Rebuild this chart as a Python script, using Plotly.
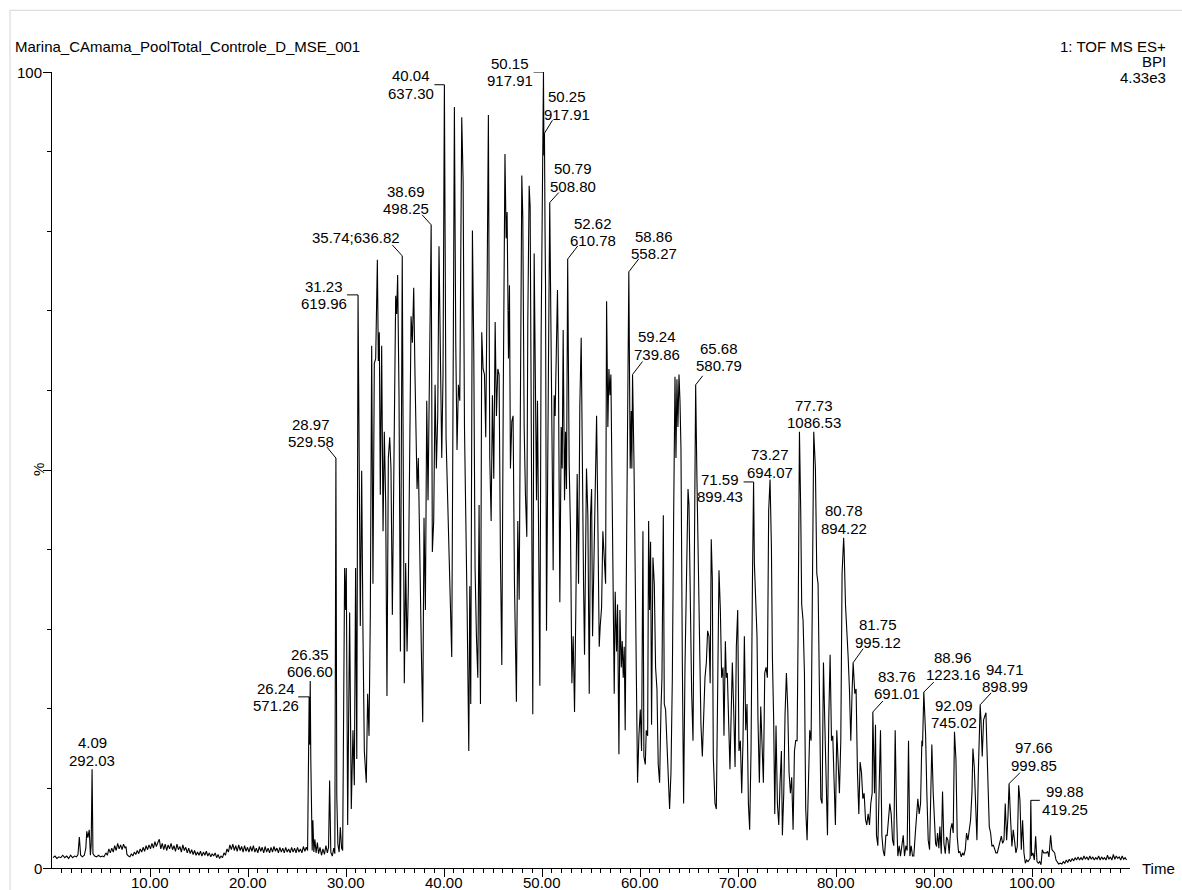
import plotly.graph_objects as go

# Base peak intensity chromatogram: (retention time [min], intensity [% of 4.33e3])
baseline_early = [
    (0.10, 1.3), (0.30, 1.5), (0.50, 1.2), (0.70, 1.4), (0.90, 1.3), (1.10, 1.6), (1.30, 1.3),
    (1.50, 1.5), (1.70, 1.2), (1.90, 1.6), (2.10, 1.3), (2.30, 1.5), (2.50, 1.4), (2.65, 1.7),
    (2.79, 3.9), (2.92, 1.6), (3.10, 1.4), (3.30, 1.6), (3.45, 2.5), (3.55, 4.6), (3.66, 3.8),
    (3.80, 4.8), (3.92, 1.6), (4.00, 3.0), (4.09, 12.4), (4.18, 1.8), (4.35, 1.5), (4.55, 1.4),
    (4.75, 1.6), (4.95, 1.4), (5.15, 1.5), (5.30, 1.4), (5.50, 1.9), (5.65, 1.6), (5.80, 2.4),
    (5.95, 1.9), (6.10, 2.5), (6.25, 2.0), (6.40, 2.8), (6.55, 2.2), (6.70, 3.1), (6.85, 2.4),
    (7.00, 2.9), (7.15, 2.3), (7.30, 3.0), (7.45, 2.5), (7.55, 2.7), (7.65, 1.7), (7.80, 1.5),
    (7.95, 1.4), (8.10, 1.8), (8.25, 1.5), (8.40, 2.0), (8.55, 1.7), (8.70, 2.2), (8.85, 1.8),
    (9.00, 2.4), (9.15, 2.0), (9.30, 2.6), (9.45, 2.1), (9.60, 2.8), (9.75, 2.3), (9.90, 2.9),
    (10.05, 2.4), (10.20, 3.1), (10.35, 2.5), (10.50, 3.3), (10.65, 2.7), (10.80, 3.2), (10.95, 3.6),
    (11.10, 2.4), (11.25, 3.1), (11.40, 2.3), (11.55, 3.0), (11.70, 2.2), (11.85, 2.9), (12.00, 2.4),
    (12.15, 3.1), (12.30, 2.3), (12.45, 2.8), (12.60, 2.1), (12.75, 3.0), (12.90, 2.3), (13.05, 2.7),
    (13.20, 2.0), (13.35, 2.9), (13.50, 2.2), (13.65, 2.6), (13.80, 1.9), (13.95, 2.5), (14.10, 1.8),
    (14.25, 2.3), (14.40, 1.7), (14.55, 2.2), (14.70, 1.6), (14.85, 2.0), (15.00, 1.6), (15.15, 2.1),
    (15.30, 1.5), (15.45, 2.0), (15.60, 1.6), (15.75, 2.1), (15.90, 1.5), (16.05, 1.9), (16.20, 1.4),
    (16.35, 1.8), (16.50, 1.5), (16.65, 1.9), (16.80, 1.3), (16.95, 1.7), (17.10, 1.2), (17.25, 1.5),
    (17.40, 1.3), (17.55, 1.9), (17.70, 1.6), (17.85, 2.4), (18.00, 2.0), (18.15, 2.9), (18.30, 2.3),
    (18.45, 3.0), (18.60, 2.2), (18.75, 2.8), (18.90, 2.1), (19.05, 2.9), (19.20, 2.2), (19.35, 2.7),
    (19.50, 2.0), (19.65, 2.8), (19.80, 2.1), (19.95, 2.6), (20.10, 2.0), (20.25, 2.7), (20.40, 2.1),
    (20.55, 2.8), (20.70, 2.0), (20.85, 2.5), (21.00, 1.9), (21.15, 2.7), (21.30, 2.1), (21.45, 2.6),
    (21.60, 1.9), (21.75, 2.7), (21.90, 2.0), (22.05, 2.5), (22.20, 1.9), (22.35, 2.6), (22.50, 2.0),
    (22.65, 2.7), (22.80, 2.1), (22.95, 2.5), (23.10, 1.9), (23.25, 2.6), (23.40, 2.0), (23.55, 2.5),
    (23.70, 1.9), (23.85, 2.6), (24.00, 2.0), (24.15, 2.4), (24.30, 1.9), (24.45, 2.6), (24.60, 2.0),
    (24.75, 2.5), (24.90, 1.9), (25.05, 2.6), (25.20, 2.0), (25.35, 2.4), (25.50, 1.9), (25.65, 2.7),
    (25.80, 2.1), (25.95, 2.6),
]

seg_26_30 = [
    (26.08, 2.2), (26.17, 10.5), (26.24, 21.5), (26.29, 15.5), (26.35, 23.5), (26.41, 13.5),
    (26.48, 8.0), (26.55, 2.2), (26.62, 6.0), (26.72, 2.0), (26.82, 3.6), (26.95, 1.9), (27.08, 3.2),
    (27.20, 1.8), (27.35, 2.6), (27.50, 1.6), (27.65, 2.4), (27.80, 1.7), (27.95, 2.8), (28.10, 1.9),
    (28.22, 2.6), (28.33, 11.0), (28.45, 2.0), (28.60, 1.5), (28.75, 2.5), (28.86, 1.8), (28.97, 51.5),
    (29.06, 9.0), (29.17, 3.0), (29.30, 2.0), (29.42, 5.1), (29.55, 2.5), (29.66, 2.2),
]

seg_30_41 = [
    (29.86, 37.7), (29.96, 32.4), (30.03, 37.7), (30.17, 5.4), (30.37, 32.1), (30.54, 7.4),
    (30.71, 17.3), (30.85, 10.4), (30.98, 37.7), (31.10, 13.7), (31.23, 72.0), (31.46, 30.4),
    (31.60, 49.9), (31.73, 29.8), (31.87, 14.7), (32.07, 10.7), (32.21, 21.9), (32.35, 16.6),
    (32.48, 31.8), (32.62, 65.6), (32.75, 35.7), (32.89, 63.4), (33.03, 64.0), (33.20, 76.4),
    (33.30, 63.7), (33.40, 67.3), (33.50, 46.9), (33.64, 65.6), (33.78, 42.3), (33.91, 54.8),
    (34.05, 45.9), (34.18, 21.6), (34.32, 51.5), (34.46, 54.1), (34.59, 50.2), (34.73, 31.8),
    (34.93, 54.1), (35.07, 71.9), (35.17, 69.6), (35.27, 74.5), (35.41, 59.4), (35.55, 27.2),
    (35.74, 76.9), (35.84, 44.3), (35.95, 23.2), (36.09, 38.3), (36.23, 27.2), (36.36, 35.1),
    (36.50, 51.5), (36.64, 69.3), (36.77, 66.0), (36.91, 72.9), (37.04, 62.0), (37.25, 47.6),
    (37.38, 51.5), (37.55, 35.7), (37.69, 27.2), (37.83, 18.3), (37.96, 44.0), (38.10, 32.4),
    (38.24, 58.7), (38.37, 46.2), (38.51, 62.0), (38.61, 72.6), (38.69, 80.8), (38.81, 39.7),
    (38.95, 43.6), (39.09, 60.7), (39.22, 50.2), (39.36, 56.8), (39.49, 78.1), (39.63, 64.7),
    (39.77, 51.5), (39.90, 62.0), (40.04, 98.4), (40.21, 54.1), (40.41, 43.6), (40.65, 34.4),
    (40.79, 26.5), (40.96, 68.6),
]

seg_41_51 = [
    (41.06, 95.6), (41.20, 66.0), (41.33, 52.5), (41.47, 60.7), (41.61, 58.7), (41.81, 94.3),
    (41.95, 86.4), (42.09, 55.4), (42.22, 46.2), (42.36, 32.4), (42.53, 14.7), (42.63, 35.4),
    (42.73, 20.6), (42.90, 80.1), (43.04, 64.7), (43.17, 37.7), (43.31, 29.1), (43.45, 23.9),
    (43.58, 45.6), (43.72, 20.6), (43.85, 67.3), (43.99, 62.7), (44.13, 62.0), (44.26, 54.1),
    (44.40, 73.2), (44.53, 94.6), (44.67, 51.5), (44.81, 43.6), (44.94, 59.4), (45.08, 48.9),
    (45.22, 68.6), (45.35, 56.8), (45.49, 62.7), (45.62, 62.0), (45.76, 39.0), (45.90, 25.5),
    (46.05, 60.0), (46.22, 89.7), (46.34, 79.1), (46.44, 82.4), (46.58, 64.0), (46.68, 73.2),
    (46.78, 50.2), (46.92, 56.1), (47.05, 56.8), (47.19, 35.7), (47.39, 20.9), (47.53, 43.6),
    (47.67, 33.7), (47.80, 62.0), (47.94, 87.0), (48.04, 81.8), (48.18, 55.4), (48.31, 46.9),
    (48.45, 41.6), (48.55, 68.6), (48.69, 85.7), (48.79, 83.1), (48.93, 44.3), (49.06, 19.3),
    (49.20, 77.2), (49.34, 59.4), (49.44, 46.2), (49.54, 58.7), (49.68, 42.3), (49.78, 22.9),
    (49.91, 66.6), (50.05, 82.4), (50.15, 100.0), (50.20, 89.5), (50.25, 92.3), (50.31, 80.0),
    (50.36, 73.2), (50.46, 29.8), (50.56, 52.8), (50.66, 63.3), (50.79, 83.6),
]

seg_51_60 = [
    (50.93, 68.6), (51.04, 51.5), (51.14, 37.4), (51.24, 59.4), (51.34, 56.8), (51.45, 64.7),
    (51.58, 72.6), (51.68, 62.0), (51.82, 33.4), (51.96, 55.4), (52.06, 50.2), (52.16, 67.6),
    (52.30, 46.2), (52.40, 54.8), (52.50, 47.6), (52.62, 76.5), (52.77, 50.8), (52.91, 42.3),
    (53.05, 23.2), (53.18, 29.1), (53.32, 19.6), (53.45, 32.4), (53.59, 49.5), (53.73, 35.7),
    (53.86, 58.1), (54.00, 66.6), (54.14, 44.9), (54.24, 35.7), (54.34, 26.8), (54.44, 45.6),
    (54.54, 50.2), (54.68, 44.3), (54.82, 21.9), (54.95, 44.3), (55.06, 47.6), (55.16, 29.1),
    (55.29, 39.7), (55.43, 48.9), (55.57, 56.8), (55.70, 43.6), (55.84, 27.8), (55.94, 30.4),
    (56.08, 32.7), (56.21, 42.3), (56.35, 39.7), (56.49, 35.7), (56.59, 71.2), (56.72, 55.4),
    (56.83, 62.7), (56.93, 59.4), (57.03, 62.0), (57.13, 51.5), (57.23, 39.7), (57.37, 21.9),
    (57.47, 34.7), (57.61, 27.2), (57.71, 33.1), (57.85, 14.3), (57.95, 32.4), (58.09, 25.2),
    (58.19, 28.5), (58.29, 23.9), (58.39, 27.8), (58.49, 17.3), (58.63, 40.3), (58.77, 59.4),
    (58.86, 74.9), (59.00, 50.2), (59.11, 57.4), (59.17, 50.2), (59.24, 62.0), (59.38, 51.5),
    (59.52, 35.7), (59.65, 25.2), (59.75, 10.7), (59.89, 16.6),
]

seg_60_70 = [
    (60.03, 19.9), (60.16, 14.7), (60.30, 42.3), (60.40, 14.0), (60.54, 13.0), (60.64, 17.3),
    (60.78, 16.6), (60.88, 43.6), (60.98, 32.4), (61.08, 41.0), (61.18, 18.0), (61.32, 39.0),
    (61.46, 35.7), (61.59, 25.2), (61.73, 22.5), (61.86, 13.0), (62.00, 10.7), (62.14, 19.9),
    (62.24, 23.9), (62.38, 44.3), (62.48, 20.6), (62.61, 19.9), (62.75, 15.3), (62.89, 9.4),
    (63.02, 7.4), (63.16, 12.0), (63.30, 23.9), (63.43, 43.6), (63.57, 61.7), (63.67, 51.5),
    (63.77, 61.4), (63.87, 55.4), (63.98, 62.0), (64.08, 58.7), (64.18, 52.8), (64.32, 25.8),
    (64.45, 8.1), (64.59, 25.2), (64.76, 35.7), (64.90, 47.6), (65.00, 45.6), (65.13, 32.4),
    (65.27, 21.9), (65.41, 16.0), (65.54, 43.6), (65.68, 60.7), (65.81, 48.9), (65.95, 38.3),
    (66.09, 29.1), (66.22, 18.0), (66.36, 14.0), (66.50, 19.3), (66.63, 23.9), (66.77, 25.8),
    (66.90, 29.8), (67.04, 29.1), (67.16, 23.2), (67.27, 41.3), (67.38, 36.4), (67.48, 14.0),
    (67.65, 8.1), (67.79, 7.4), (67.92, 19.3), (68.06, 37.4), (68.20, 32.4), (68.33, 23.9),
    (68.47, 25.2), (68.57, 16.6), (68.71, 28.5), (68.81, 23.9), (68.91, 24.5), (69.05, 16.0),
    (69.18, 12.4), (69.29, 18.6), (69.42, 25.8), (69.56, 19.9), (69.70, 12.7), (69.83, 27.8),
    (69.97, 32.4),
]

seg_70_81 = [
    (70.10, 14.7), (70.24, 16.0), (70.38, 9.4), (70.51, 16.0), (70.65, 29.1), (70.79, 17.3),
    (70.92, 20.6), (71.06, 8.1), (71.19, 4.8), (71.33, 14.7), (71.47, 35.7), (71.59, 48.5),
    (71.67, 38.3), (71.81, 33.7), (71.94, 29.1), (72.04, 18.6), (72.18, 10.7), (72.32, 20.3),
    (72.45, 16.0), (72.59, 10.7), (72.73, 24.5), (72.86, 25.2), (73.00, 23.9), (73.13, 44.9),
    (73.27, 48.8), (73.41, 40.3), (73.51, 26.5), (73.64, 18.6), (73.75, 6.8), (73.88, 17.9),
    (74.02, 8.1), (74.16, 5.4), (74.29, 10.7), (74.43, 14.7), (74.53, 4.1), (74.67, 9.4),
    (74.80, 19.3), (74.94, 24.5), (75.08, 19.9), (75.21, 12.0), (75.35, 9.4), (75.48, 11.4),
    (75.62, 4.8), (75.76, 14.7), (75.89, 16.0), (76.03, 16.0), (76.13, 29.1), (76.27, 54.8),
    (76.40, 44.9), (76.50, 33.1), (76.64, 31.1), (76.78, 24.5), (76.91, 7.4), (77.05, 3.5),
    (77.19, 10.7), (77.32, 17.3), (77.46, 16.0), (77.63, 42.3), (77.73, 54.8), (77.90, 50.2),
    (78.04, 37.0), (78.17, 35.7), (78.31, 23.9), (78.45, 8.7), (78.58, 8.1), (78.72, 25.8),
    (78.85, 18.6), (78.99, 9.4), (79.13, 4.1), (79.26, 18.6), (79.40, 26.8), (79.54, 16.0),
    (79.67, 16.6), (79.81, 10.7), (79.94, 5.4), (80.08, 17.3), (80.22, 13.3), (80.35, 9.4),
    (80.49, 16.0), (80.62, 37.0), (80.78, 41.5),
]

seg_81_90 = [
    (80.83, 40.0), (80.97, 33.0), (81.10, 30.4), (81.24, 26.5), (81.37, 22.5), (81.51, 16.0),
    (81.65, 22.5), (81.75, 25.8), (81.92, 21.9), (82.05, 22.5), (82.19, 12.0), (82.33, 6.8),
    (82.46, 13.3), (82.60, 12.0), (82.74, 8.7), (82.87, 9.4), (83.01, 6.1), (83.14, 5.4),
    (83.28, 6.8), (83.42, 5.4), (83.55, 8.1), (83.69, 9.4), (83.76, 19.6), (83.93, 9.4),
    (84.03, 18.0), (84.13, 4.1), (84.27, 2.8), (84.40, 8.7), (84.54, 17.3), (84.68, 4.1),
    (84.81, 2.2), (84.95, 1.5), (85.09, 4.1), (85.22, 4.1), (85.36, 6.1), (85.49, 8.1),
    (85.63, 6.8), (85.77, 3.5), (85.90, 2.8), (86.04, 17.3), (86.18, 6.8), (86.31, 1.5),
    (86.45, 2.8), (86.58, 1.5), (86.72, 2.8), (86.86, 4.1), (86.99, 1.5), (87.13, 2.8),
    (87.26, 2.2), (87.40, 16.0), (87.54, 1.5), (87.67, 2.8), (87.81, 1.5), (87.94, 1.5),
    (88.08, 4.1), (88.22, 6.8), (88.35, 8.7), (88.49, 6.8), (88.63, 8.1), (88.76, 16.0),
    (88.83, 15.3), (88.96, 22.1), (89.14, 16.9), (89.27, 9.4), (89.41, 3.5), (89.55, 2.3),
    (89.68, 9.4), (89.78, 15.5), (89.92, 9.4),
]

seg_90_103 = [
    (90.02, 7.3), (90.16, 3.1), (90.26, 2.7), (90.36, 4.4), (90.50, 2.5), (90.60, 5.2),
    (90.74, 1.8), (90.87, 9.6), (91.01, 3.1), (91.15, 1.8), (91.28, 3.9), (91.42, 3.5),
    (91.55, 1.8), (91.69, 4.8), (91.83, 5.6), (91.96, 4.4), (92.09, 17.1), (92.24, 13.6),
    (92.37, 3.9), (92.51, 1.9), (92.64, 2.1), (92.78, 1.4), (92.92, 1.9), (93.05, 1.6),
    (93.19, 2.3), (93.32, 4.4), (93.46, 3.5), (93.60, 5.2), (93.73, 6.0), (93.87, 9.4),
    (93.97, 15.0), (94.11, 12.7), (94.24, 8.5), (94.38, 3.5), (94.52, 11.9), (94.63, 19.8),
    (94.71, 20.5), (94.80, 18.5), (94.92, 14.0), (95.06, 18.6), (95.20, 19.2), (95.30, 19.5),
    (95.40, 15.2), (95.50, 9.8), (95.64, 5.2), (95.78, 4.4), (95.91, 2.7), (96.05, 2.9),
    (96.18, 2.3), (96.32, 1.9), (96.46, 1.9), (96.59, 2.7), (96.73, 3.5), (96.87, 4.0),
    (97.00, 3.1), (97.14, 3.5), (97.27, 8.1), (97.41, 3.5), (97.55, 6.5), (97.66, 10.6),
    (97.82, 6.0), (97.95, 2.7), (98.09, 4.8), (98.23, 3.5), (98.36, 1.9), (98.50, 2.7),
    (98.64, 10.4), (98.77, 8.5), (98.91, 2.3), (99.04, 6.0), (99.18, 1.9), (99.32, 0.6),
    (99.45, 1.0), (99.59, 0.8), (99.73, 1.0), (99.81, 1.2), (99.88, 8.5), (99.96, 1.5),
    (100.10, 1.9), (100.24, 1.0), (100.37, 4.0), (100.51, 0.8), (100.65, 0.6), (100.78, 0.8),
    (100.92, 0.4), (101.05, 2.3), (101.19, 1.9), (101.33, 1.9), (101.46, 1.9), (101.60, 2.1),
    (101.73, 1.4), (101.90, 4.1), (102.04, 2.3), (102.18, 2.1), (102.31, 1.9), (102.45, 1.0),
    (102.59, 0.8), (102.72, 0.5),
]

baseline_late = [
    (102.89, 0.6), (103.05, 0.5), (103.20, 0.8), (103.35, 0.6), (103.50, 1.0), (103.65, 0.7),
    (103.80, 1.1), (103.95, 0.8), (104.10, 1.2), (104.25, 0.9), (104.40, 1.3), (104.55, 1.0),
    (104.70, 1.4), (104.85, 1.0), (105.00, 1.3), (105.15, 1.0), (105.30, 1.5), (105.45, 1.1),
    (105.60, 1.4), (105.75, 1.0), (105.90, 1.5), (106.05, 1.1), (106.20, 1.4), (106.35, 1.0),
    (106.50, 1.3), (106.65, 1.1), (106.80, 1.5), (106.95, 1.0), (107.10, 1.4), (107.25, 1.1),
    (107.40, 1.3), (107.55, 1.0), (107.70, 1.6), (107.85, 1.1), (108.00, 1.4), (108.15, 1.0),
    (108.30, 1.7), (108.45, 1.1), (108.60, 1.5), (108.75, 1.2), (108.90, 1.4), (109.05, 1.0),
    (109.20, 1.5), (109.35, 1.1), (109.50, 1.3), (109.65, 1.0),
]

# Annotated peaks: retention time and base peak m/z
label_rt = [4.09, 26.24, 26.35, 28.97, 31.23, 35.74, 38.69, 40.04, 50.15, 50.25, 50.79,
            52.62, 58.86, 59.24, 65.68, 71.59, 73.27, 77.73, 80.78, 81.75, 83.76, 88.96,
            92.09, 94.71, 97.66, 99.88]
label_mz = ["292.03", "571.26", "606.60", "529.58", "619.96", "636.82", "498.25", "637.30",
            "917.91", "917.91", "508.80", "610.78", "558.27", "739.86", "580.79", "899.43",
            "694.07", "1086.53", "894.22", "995.12", "691.01", "1223.16", "745.02", "898.99",
            "999.85", "419.25"]
x_major = [10, 20, 30, 40, 50, 60, 70, 80, 90, 100]

# Label placement: text-block centre offset from the apex in screen px (right, down)
# and the leader polyline in screen px (right, down), or None when the label sits on top.
label_place = {
    4.09: (0, -18, None),
    26.24: (-33, 0, [(-11, 0), (0, 0)]),
    26.35: (0, -18, None),
    28.97: (-25, -25, [(-9, -11), (0, 0)]),
    31.23: (-34, 0, [(-11, 0), (0, 0)]),
    35.74: (-46, -18, [(-10, -11), (0, 0)]),
    38.69: (-25, -25, [(-9, -10), (0, 0)]),
    40.04: (-33, 0, [(-10, 0), (0, 0)]),
    50.15: (-33, 0, [(-10, 0), (0, 0)]),
    50.25: (23, -28, [(8, -13), (0, 0)]),
    50.79: (23, -25, [(9, -10), (0, 0)]),
    52.62: (25, -27, [(10, -13), (0, 0)]),
    58.86: (25, -27, [(10, -13), (0, 0)]),
    59.24: (24, -29, [(10, -13), (0, 0)]),
    65.68: (23, -28, [(7, -9), (0, 0)]),
    71.59: (-34, 6, [(-10, 0), (0, 0)]),
    73.27: (0, -16, None),
    77.73: (0, -18, None),
    80.78: (0, -18, None),
    81.75: (25, -29, [(10, -14), (0, 0)]),
    83.76: (24, -27, [(10, -11), (0, 0)]),
    88.96: (29, -26, [(10, -10), (0, 0)]),
    92.09: (0, -18, None),
    94.71: (25, -27, [(11, -12), (0, 0)]),
    97.66: (25, -27, [(11, -11), (0, 0)]),
    99.88: (34, 0, [(9, 0), (0, 0)]),
}
single_line_labels = {35.74}

segments = [baseline_early, seg_26_30, seg_30_41, seg_41_51, seg_51_60,
            seg_60_70, seg_70_81, seg_81_90, seg_90_103, baseline_late]
rt = [p[0] for seg in segments for p in seg]
bpi = [p[1] for seg in segments for p in seg]

FONT = "Liberation Sans, Arial, Helvetica, sans-serif"
FS = 15
LINE_PITCH = 17.5
TXT = dict(family=FONT, size=FS, color="black")

fig = go.Figure()
fig.add_trace(go.Scatter(x=rt, y=bpi, mode="lines",
                         line=dict(color="black", width=1.1), hoverinfo="skip"))

# Peak labels (retention time over m/z) with their leader lines
for t, mz in zip(label_rt, label_mz):
    apex = bpi[rt.index(t)]
    dx, dy, leader = label_place[t]
    if t in single_line_labels:
        lines = [f"{t:.2f};{mz}"]
    else:
        lines = [f"{t:.2f}", mz]
    n = len(lines)
    for i, line in enumerate(lines):
        off = (i - (n - 1) / 2) * LINE_PITCH
        fig.add_annotation(x=t, y=apex, xref="x", yref="y", text=line, showarrow=False,
                           xanchor="center", yanchor="middle", xshift=dx, yshift=-(dy + off),
                           font=TXT)
    if leader:
        path = "M " + " L ".join(f"{px},{-py}" for px, py in leader)
        fig.add_shape(type="path", path=path, xref="x", yref="y",
                      xsizemode="pixel", ysizemode="pixel", xanchor=t, yanchor=apex,
                      line=dict(color="black", width=1))

# Plot-area geometry in page pixels
L, W = 52.0, 1077.7
B, H = 868.0, 796.3


def px_x(p):
    return (p - L) / W


def px_y(p):
    return (B - p) / H


# Axis numbers
for v in x_major:
    fig.add_annotation(x=v, xref="x", yref="paper", y=0, yshift=-14, yanchor="middle",
                       xanchor="center", showarrow=False, text=f"{v:.2f}", font=TXT,
                       borderpad=0)
for v, txt in [(0, "0"), (100, "100")]:
    fig.add_annotation(x=0, xref="paper", y=v, yref="y", xshift=-9, xanchor="right",
                       yanchor="middle", showarrow=False, text=txt, font=TXT, borderpad=0)

fig.add_annotation(xref="paper", yref="paper", x=px_x(13), y=px_y(46), xanchor="left",
                   yanchor="middle", showarrow=False,
                   text="Marina_CAmama_PoolTotal_Controle_D_MSE_001", font=TXT)
for txt, py in [("1: TOF MS ES+", 46), ("BPI", 61.5), ("4.33e3", 77)]:
    fig.add_annotation(xref="paper", yref="paper", x=px_x(1168), y=px_y(py), xanchor="right",
                       yanchor="middle", showarrow=False, text=txt, font=TXT)

fig.add_annotation(xref="paper", yref="paper", x=1, y=0, xanchor="left", yanchor="middle",
                   xshift=10, showarrow=False, text="Time", font=TXT)
fig.add_annotation(xref="paper", yref="y", x=0, y=50, xanchor="center", yanchor="middle",
                   xshift=-14, showarrow=False, text="%", textangle=-90, font=TXT)

# Light frame round the page
fig.add_shape(type="rect", xref="paper", yref="paper", x0=px_x(10), x1=px_x(1195),
              y0=px_y(900), y1=px_y(10), line=dict(color="#d4d4d4", width=1), layer="below")

fig.update_layout(
    width=1182, height=890,
    margin=dict(l=L, r=1182 - L - W, t=B - H, b=890 - B, pad=0, autoexpand=False),
    paper_bgcolor="white", plot_bgcolor="white",
    showlegend=False,
    font=TXT,
    xaxis=dict(range=[0, 110], tickvals=x_major, showticklabels=False,
               ticks="outside", ticklen=8, tickwidth=1, tickcolor="black", automargin=False,
               showline=True, linecolor="black", linewidth=1, showgrid=False, zeroline=False,
               minor=dict(tickvals=[v for v in range(1, 110) if v % 10], ticks="outside",
                          ticklen=4, tickcolor="black", showgrid=False)),
    yaxis=dict(range=[0, 100], tickvals=[0, 50, 100], showticklabels=False,
               ticks="outside", ticklen=8, tickwidth=1, tickcolor="black", automargin=False,
               showline=True, linecolor="black", linewidth=1, showgrid=False, zeroline=False,
               minor=dict(tickvals=[10, 20, 30, 40, 60, 70, 80, 90], ticks="outside",
                          ticklen=4, tickcolor="black", showgrid=False)),
)

fig.write_html("out.html")
